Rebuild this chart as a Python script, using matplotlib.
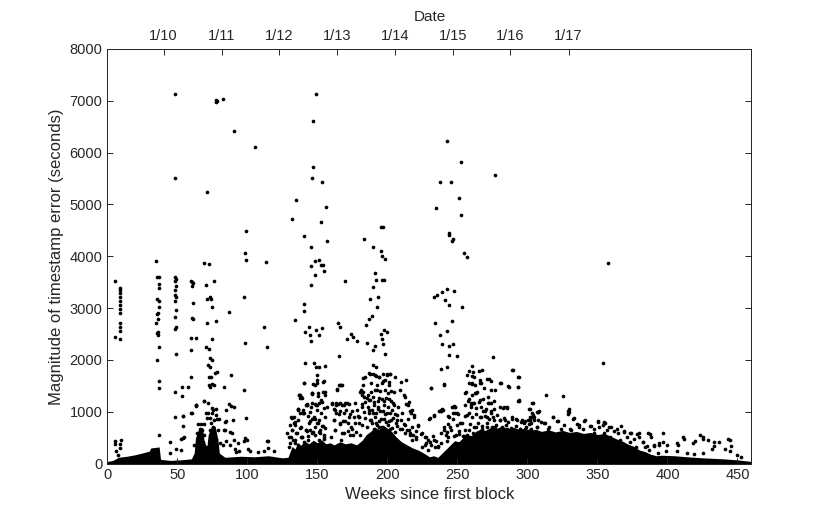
import matplotlib
matplotlib.use("Agg")
import matplotlib.pyplot as plt

plt.rcParams['font.family'] = ['Liberation Sans', 'DejaVu Sans']

# top axis (calendar dates) positions in weeks
date_pos = [40.2, 81.6, 122.9, 164.2, 205.4, 246.7, 287.9, 329.4]
date_labels = ['1/10', '1/11', '1/12', '1/13', '1/14', '1/15', '1/16', '1/17']

# dense core of the point cloud: approximate solid top per week
band_weeks = [0, 4, 8, 14, 20, 26, 30, 31, 37, 38,
              45, 52, 60, 62, 63, 65, 68, 69, 71, 72,
              74, 77, 79, 80, 84, 95, 105, 115, 125, 129,
              132, 134, 136, 138, 141, 144, 147, 150, 153, 156,
              159, 162, 166, 170, 174, 178, 182, 185, 188, 191,
              194, 197, 200, 203, 206, 210, 214, 218, 222, 226,
              230, 233, 236, 239, 242, 245, 248, 251, 254, 257,
              260, 263, 266, 270, 274, 278, 282, 286, 290, 294,
              298, 302, 306, 310, 315, 320, 325, 330, 335, 340,
              345, 350, 355, 360, 364, 368, 372, 376, 380, 384,
              388, 392, 396, 405, 414, 425, 440, 450, 460]
band_top = [40, 60, 120, 140, 170, 210, 240, 300, 320, 80,
            60, 70, 90, 200, 500, 650, 700, 450, 300, 550,
            700, 720, 450, 200, 120, 140, 130, 150, 110, 120,
            330, 280, 400, 350, 430, 380, 450, 400, 460, 380,
            400, 360, 420, 380, 400, 360, 450, 560, 620, 700,
            660, 740, 680, 620, 520, 420, 360, 300, 260, 200,
            130, 150, 120, 200, 280, 360, 440, 420, 500, 560,
            540, 620, 660, 640, 700, 680, 720, 670, 700, 660,
            680, 640, 660, 620, 650, 610, 640, 600, 620, 580,
            600, 560, 580, 520, 470, 430, 370, 330, 260, 230,
            180, 150, 160, 150, 130, 110, 90, 70, 40]

# individual points (week, seconds), weeks 0-130
early_pts = [
    (5.7, 3516), (9.1, 3387), (9.1, 3349), (9.1, 3284), (9.1, 3220), (9.1, 3143), (9.1, 3059),
    (9.1, 2975), (9.1, 2898), (9.1, 2705), (9.1, 2640), (9.1, 2563), (9.1, 2396), (5.7, 2434),
    (5.3, 438), (9.5, 451), (9.1, 309), (5.3, 377), (9.3, 377), (6.0, 248), (7.4, 164),
    (34.8, 3903), (35.8, 3606), (36.8, 3594), (36.8, 3465), (37.2, 3387), (35.8, 3168), (36.8, 3143),
    (36.8, 3027), (36.3, 2911), (35.3, 2885), (36.3, 2782), (34.8, 2718), (36.3, 2537), (35.8, 2525),
    (36.3, 2473), (36.8, 2241), (35.3, 1996), (36.8, 1584), (36.8, 1455), (36.8, 554),
    (48.4, 7135), (48.4, 5506), (48.2, 3606), (48.7, 3568), (48.2, 3516), (48.7, 3426), (48.2, 3349),
    (48.2, 3259), (48.7, 3207), (48.2, 3143), (48.7, 2962), (48.2, 2821), (48.7, 2640), (48.2, 2589),
    (48.7, 2112), (48.2, 1378), (48.2, 902),
    (53.5, 1481), (53.5, 1301), (53.7, 915), (54.4, 721), (54.2, 502), (57.3, 1481), (54.0, 919),
    (60.2, 970), (52.6, 468), (55.0, 519), (44.5, 416), (48.8, 274), (52.6, 261), (44.5, 197),
    (59.7, 3516), (60.6, 3503), (61.1, 3478), (60.6, 3426), (61.1, 3091), (60.6, 2808), (61.1, 2795),
    (59.7, 2421), (59.7, 2190), (59.7, 1662), (59.7, 966),
    (63.0, 2421), (63.5, 1133), (63.0, 1108),
    (68.7, 3877), (72.6, 3851), (71.1, 5242), (70.6, 3452), (75.9, 3529), (71.1, 3168), (73.5, 3207),
    (74.2, 3168), (74.5, 3027), (71.1, 2718), (77.3, 2756), (74.5, 2396), (70.2, 2241), (72.6, 2203),
    (73.5, 2035), (74.5, 1996), (72.1, 1893), (73.5, 1868), (72.6, 1674), (74.0, 1662), (74.9, 1533),
    (76.8, 1739), (78.3, 1765), (73.5, 1481), (72.6, 1507), (76.4, 1520), (68.7, 1211), (72.1, 1172),
    (74.5, 1069), (75.4, 1030), (77.3, 1056), (70.2, 966), (73.5, 876), (75.9, 837), (78.3, 850),
    (63.6, 1138), (68.8, 1202), (71.7, 970), (75.0, 970), (77.4, 944), (71.2, 880), (79.8, 854),
    (64.5, 764), (66.9, 764), (68.8, 764), (66.0, 661), (67.9, 648), (64.0, 584), (69.3, 545),
    (66.4, 481), (68.3, 416), (74.0, 777), (75.5, 713), (73.6, 648), (76.4, 584), (74.5, 519),
    (77.4, 468), (73.6, 416), (78.8, 648), (80.2, 403), (62.1, 352), (70.2, 326), (82.6, 352),
    (77.6, 7020), (78.3, 6994), (77.8, 6981), (82.6, 7032), (90.7, 6408), (105.3, 6099),
    (86.9, 2924), (88.3, 1700), (83.5, 1468), (86.6, 1146), (88.3, 1108), (85.0, 1030), (90.2, 1082),
    (84.5, 811), (89.7, 837), (84.0, 644), (89.3, 580), (84.0, 803), (83.1, 648), (87.4, 610),
    (90.2, 455), (93.1, 403), (84.5, 429), (87.9, 352), (91.2, 287), (91.7, 223), (94.0, 248),
    (98.3, 4070), (98.8, 3928), (99.3, 4482), (97.9, 3220), (98.3, 2318), (97.9, 1417), (99.3, 876),
    (98.3, 502), (99.8, 451), (97.4, 442), (100.7, 287), (101.7, 236),
    (113.6, 3890), (112.2, 2640), (114.1, 2241), (114.8, 438), (114.1, 429), (114.5, 300),
    (119.3, 236), (112.1, 248), (107.9, 223),
]

# weeks 130-230
mid_pts = [
    (134.6, 5087), (132.2, 4727), (134.1, 2769), (137.5, 1314), (138.9, 1262), (136.5, 1030),
    (139.9, 966), (132.2, 876), (136.0, 837), (134.1, 734),
    (149.0, 7135), (147.1, 6614), (147.1, 5719), (146.2, 5519), (153.6, 5442), (156.2, 4946),
    (140.5, 4392), (152.4, 4663), (156.7, 4295), (145.7, 4186), (148.1, 3903), (145.2, 3812),
    (151.4, 3928), (152.9, 3838), (154.3, 3825), (154.8, 3722), (148.1, 3639), (145.2, 3452),
    (140.5, 3078), (140.5, 2950), (141.4, 2544), (143.8, 2640), (144.8, 2486), (149.0, 2576),
    (151.4, 2473), (153.3, 2615), (145.2, 2370), (141.4, 1932), (147.6, 1945), (149.0, 1855),
    (151.4, 1868), (155.7, 1881), (140.5, 1558), (146.7, 1533), (149.5, 1546), (154.3, 1571),
    (146.2, 1352), (155.2, 1378), (148.6, 1146), (150.9, 1172), (142.4, 1133),
    (164.8, 2705), (166.2, 2640), (170.0, 3516), (165.2, 2074), (166.2, 1507), (167.6, 1507),
    (164.3, 1417), (171.0, 2396), (173.8, 2499), (175.2, 2434), (178.1, 2370),
    (183.3, 4328), (189.5, 4173), (195.2, 4560), (197.1, 4560), (195.2, 4096), (196.2, 4006),
    (198.1, 3941), (191.0, 3684), (191.9, 3542), (196.2, 3542), (197.6, 3542), (190.0, 3413),
    (193.3, 3220), (187.6, 3181), (192.4, 3014), (189.0, 2846), (186.7, 2795), (184.8, 2666),
    (197.6, 2576), (199.5, 2537), (195.7, 2499), (196.2, 2396), (197.1, 2306), (185.7, 2331),
    (191.4, 2267), (190.0, 2190), (198.6, 2112), (190.0, 1906), (191.9, 1868), (182.4, 1649),
    (187.6, 1726), (190.9, 1700), (194.3, 1674), (200.0, 1713), (201.9, 1726), (197.1, 1597),
    (201.0, 1571), (209.5, 1571), (212.9, 1288), (214.8, 1133), (182.9, 1378), (188.6, 1378),
    (192.9, 1417), (204.8, 1378),
    (136.9, 1318), (138.3, 1280), (142.1, 1138), (136.4, 1048), (139.8, 983), (133.6, 893),
    (145.5, 1086), (146.4, 1344), (150.2, 1357), (148.8, 1138), (152.6, 1228), (143.6, 919),
    (148.3, 867), (130.7, 739), (134.0, 803), (131.7, 648), (135.0, 584), (137.9, 687),
    (141.7, 648), (145.0, 815), (150.2, 777), (131.2, 519), (134.0, 455), (138.3, 506),
    (143.6, 532), (146.9, 610), (152.1, 648), (130.7, 390), (135.9, 352), (140.7, 416),
    (145.9, 377), (151.2, 455), (155.0, 519),
    (137.9, 1260), (142.4, 1149), (139.8, 1033), (145.0, 995), (149.8, 1033), (147.9, 898),
    (152.6, 981), (154.5, 1072), (146.4, 859), (149.8, 781), (153.6, 717), (141.7, 652),
    (145.0, 639), (148.3, 549), (151.7, 588), (155.5, 678), (139.3, 508), (143.5, 457), (154.5, 482),
    (160.7, 1149), (163.6, 1175), (164.9, 1149), (167.3, 1136), (169.7, 1175), (172.6, 1149),
    (162.1, 1059), (163.1, 969), (166.4, 1007), (170.7, 1033), (173.5, 956), (175.9, 891),
    (178.8, 917), (161.7, 839), (165.9, 762), (168.3, 826), (172.1, 775), (175.0, 672),
    (179.8, 775), (177.9, 607), (162.6, 646), (168.8, 581), (173.1, 543), (159.8, 504),
    (180.2, 543), (166.9, 453),
    (180.6, 1381), (182.0, 1329), (185.4, 1265), (187.8, 1226), (189.7, 1290), (193.6, 1200),
    (195.9, 1239), (199.3, 1265), (200.7, 1368), (202.6, 1200), (182.1, 1149), (185.9, 1097),
    (190.2, 1123), (193.1, 1085), (197.4, 1136), (200.2, 1085), (204.9, 1123), (183.1, 995),
    (186.9, 969), (188.8, 1033), (191.7, 981), (195.0, 1007), (198.3, 956), (201.7, 981),
    (205.5, 956), (179.5, 891), (184.3, 878), (187.6, 839), (191.0, 891), (194.3, 826),
    (197.6, 865), (201.0, 814), (203.9, 878), (207.2, 839), (181.6, 749), (185.4, 710),
    (189.2, 775), (192.6, 736), (196.4, 698), (200.2, 749), (203.6, 685), (206.9, 723),
    (210.2, 672), (212.1, 762), (214.0, 646),
    (213.6, 1149), (216.4, 1007), (218.8, 930), (214.5, 852), (221.7, 736), (217.9, 698),
    (220.7, 620), (224.0, 569), (216.4, 556), (226.9, 517), (229.3, 453), (227.4, 388),
]

# extra points of the dense cloud, weeks 128-220
cloud_a_pts = [
    (149.5, 1705), (140.8, 1563), (148.1, 1525), (154.8, 1589), (149.8, 1615),
    (137.1, 1331), (138.6, 1292), (146.2, 1357), (150.5, 1305), (153.8, 1383), (155.2, 1318),
    (165.2, 1525), (166.7, 1512), (164.3, 1434), (131.4, 893), (136.2, 1048), (137.6, 970),
    (133.3, 776), (142.4, 1138), (146.2, 1163), (150.0, 1125), (153.3, 1189), (156.7, 1086),
    (147.6, 880), (151.0, 841), (155.2, 906), (140.5, 970), (143.8, 777), (148.6, 712),
    (153.8, 725), (142.9, 635), (146.2, 584), (151.0, 610), (154.8, 545),
    (160.5, 1163), (163.3, 1138), (166.2, 1163), (169.0, 1138), (171.4, 1163),
    (162.4, 1035), (165.2, 957), (169.0, 983), (172.4, 906), (174.8, 1009),
    (161.9, 841), (166.2, 777), (170.0, 815), (173.8, 712), (177.1, 777),
    (162.9, 648), (167.6, 584), (171.9, 622), (175.7, 545),
    (176.7, 1163), (178.6, 1035), (180.0, 906), (181.9, 1099), (184.3, 1189), (186.2, 1331),
    (183.3, 1292), (180.9, 1421), (182.9, 1512), (184.3, 1679), (187.1, 1744), (189.5, 1718),
    (191.9, 1692), (194.3, 1666), (196.7, 1718), (199.5, 1731), (201.9, 1718),
    (188.6, 1563), (192.9, 1525), (196.2, 1550), (198.6, 1615), (201.0, 1525), (191.0, 1421),
    (194.8, 1396), (198.6, 1421), (202.4, 1409),
    (187.1, 1228), (190.5, 1189), (193.8, 1266), (197.6, 1215), (201.4, 1254), (204.3, 1163),
    (207.6, 1099), (186.7, 1035), (190.0, 970), (193.3, 1048), (196.7, 1009), (200.0, 970),
    (203.3, 1035), (207.1, 945), (210.5, 970), (188.6, 841), (191.9, 777), (195.7, 854),
    (199.0, 802), (202.9, 841), (206.2, 777), (209.5, 841), (212.9, 751), (190.5, 674),
    (194.3, 712), (198.1, 648), (201.9, 674), (205.7, 610), (209.0, 674), (212.4, 584),
    (215.7, 648), (218.6, 545), (209.0, 1421), (211.9, 1331), (215.7, 1189), (217.6, 1035),
    (213.3, 1615), (205.7, 1679), (129.5, 519), (132.4, 455), (128.1, 584), (135.7, 584),
    (139.0, 519), (134.3, 390), (130.0, 326), (131.9, 648), (138.1, 712),
]

# weeks 230-460
late_pts = [
    (234.8, 4933), (237.6, 5442), (242.9, 6221), (245.2, 5442), (252.9, 5815), (251.0, 5133),
    (252.9, 4791), (244.3, 4444), (244.3, 4418), (246.7, 4340), (246.2, 4302), (254.8, 4057),
    (257.1, 3980), (277.1, 5577), (233.3, 3207), (235.7, 3246), (239.0, 3310), (242.4, 3375),
    (241.4, 3156), (247.6, 3323), (244.3, 3053), (253.3, 3027), (234.0, 2705), (237.4, 2486),
    (242.6, 2550), (246.4, 2756), (238.8, 2306), (244.3, 2267), (247.1, 2306), (244.3, 2100),
    (250.0, 2074), (238.6, 1816), (242.4, 1868), (231.4, 1455), (240.5, 1533), (233.3, 915),
    (230.0, 863), (238.6, 1018), (239.5, 1030), (246.7, 1095), (248.1, 1095), (243.8, 889),
    (247.1, 966), (250.5, 953), (256.7, 1713), (260.5, 1881), (261.0, 1765), (261.9, 1674),
    (258.6, 1546), (260.5, 1533), (265.2, 1790), (267.6, 1803), (266.7, 1558), (264.3, 1378),
    (263.3, 1352), (256.2, 1378), (258.1, 1236), (260.0, 1159), (272.9, 1623), (273.8, 1584),
    (275.7, 2048), (276.7, 1417), (271.9, 1288), (276.2, 1198), (273.8, 1159), (281.0, 1558),
    (282.4, 1069), (285.7, 1069), (286.7, 1468), (290.0, 1803), (293.3, 1468), (294.3, 1674),
    (294.3, 1211), (301.4, 1056),
    (232.6, 530), (234.5, 427), (231.2, 350), (236.4, 324), (238.3, 1033), (236.9, 1007),
    (243.1, 917), (246.4, 1097), (248.3, 969), (240.2, 710), (243.1, 762), (246.9, 852),
    (249.8, 749), (253.1, 788), (238.1, 594), (241.9, 556), (245.2, 646), (249.0, 543),
    (250.9, 633), (253.8, 530),
    (255.6, 1136), (257.5, 1213), (259.4, 1085), (261.7, 1162), (263.6, 1072), (266.4, 1226),
    (268.3, 1007), (270.7, 1059), (272.6, 1175), (274.0, 969), (275.9, 1046), (257.1, 943),
    (260.5, 891), (263.3, 956), (266.2, 891), (269.5, 917), (272.4, 865), (275.2, 891),
    (278.6, 943), (280.5, 839), (283.3, 878), (286.2, 801), (289.1, 852), (291.9, 865),
    (295.2, 801), (298.1, 826), (300.9, 762), (258.9, 762), (261.7, 710), (264.5, 788),
    (267.9, 723), (271.2, 775), (274.5, 710), (277.9, 749), (281.7, 698), (285.0, 736),
    (288.3, 685), (291.7, 723), (295.0, 672), (298.8, 710), (302.1, 646), (255.6, 646),
    (257.1, 543), (260.9, 581), (285.7, 1085), (293.8, 1226),
    (357.6, 3864), (354.3, 1932), (313.3, 1314), (325.7, 1301), (303.8, 1159), (308.1, 1005),
    (329.5, 1056), (329.5, 992), (304.3, 940), (301.9, 837), (318.6, 889), (333.3, 876),
    (341.4, 837), (350.5, 824), (354.8, 799),
    (307.6, 995), (301.9, 906), (304.8, 841), (321.4, 815), (312.9, 777), (309.5, 803),
    (297.6, 790), (337.1, 751), (345.2, 725), (355.2, 790), (354.3, 751), (360.0, 712),
    (363.8, 674), (366.7, 725), (369.0, 635), (373.8, 584), (380.0, 584), (371.0, 519),
    (376.2, 468), (382.4, 416), (387.6, 571), (385.2, 339), (315.7, 712), (323.8, 674),
    (331.0, 648), (339.5, 674), (347.6, 661), (357.1, 648),
    (397.1, 584), (396.7, 416), (390.5, 339), (394.3, 352), (407.1, 403), (407.6, 352),
    (411.0, 519), (412.0, 468), (418.0, 403), (420.0, 442), (423.0, 545), (425.7, 506),
    (425.7, 468), (428.6, 455), (432.9, 416), (433.3, 339), (432.0, 274), (437.0, 416),
    (441.0, 274), (442.9, 481), (445.0, 455), (445.2, 339), (444.8, 236), (413.8, 210),
    (419.0, 184), (425.7, 197), (450.0, 159), (452.4, 133), (407.1, 249), (399.0, 236),
    (392.9, 197), (400.0, 365),
]

# extra points of the dense cloud, weeks 216-395
cloud_b_pts = [
    (216.9, 970), (218.8, 893), (221.7, 725), (225.0, 584), (227.4, 519), (230.7, 416),
    (233.1, 455), (229.3, 261), (236.4, 339), (225.0, 326), (220.2, 519), (217.4, 455),
    (231.2, 1460), (240.2, 1525), (230.2, 880), (233.1, 931), (238.1, 1022), (239.0, 1048),
    (242.6, 609), (245.0, 712), (247.4, 1112), (248.3, 1086), (249.8, 970), (252.1, 777),
    (255.5, 919), (258.3, 983), (259.8, 1138),
    (255.7, 1370), (260.5, 1331), (262.9, 1357), (261.4, 1163), (265.2, 1189), (266.7, 1099),
    (268.6, 1254), (271.9, 1163), (274.3, 1009), (270.0, 1009), (267.1, 906), (271.4, 906),
    (258.3, 1795), (260.7, 1692), (260.7, 1563), (262.6, 1512), (265.9, 1550), (266.4, 1615),
    (271.2, 1628), (269.3, 1460), (274.0, 1421), (280.7, 1563), (286.4, 1499), (293.1, 1486),
    (293.6, 1679), (289.3, 1808), (293.6, 1215), (301.7, 1048), (303.6, 970), (307.0, 996),
    (300.7, 841), (305.0, 893), (307.9, 841),
    (280.2, 1086), (283.6, 1086), (288.8, 906), (292.6, 841), (295.9, 841), (284.0, 841),
    (280.1, 841), (275.8, 841), (276.7, 712), (280.5, 674), (285.2, 674), (290.0, 648),
    (294.8, 674), (298.6, 674), (302.4, 674), (306.7, 712),
    (240.2, 648), (243.1, 519), (247.4, 532), (251.2, 570), (254.5, 532), (258.3, 648),
    (263.1, 712), (267.4, 674), (271.2, 712),
    (216.4, 584), (220.7, 481), (226.9, 352), (234.0, 313), (238.3, 390), (242.6, 428),
    (303.6, 1164), (307.4, 996), (303.1, 906), (302.6, 777),
    (318.3, 893), (322.1, 828), (329.3, 1022), (329.3, 957), (332.6, 854), (335.5, 764),
    (336.9, 712), (340.2, 828), (345.0, 725), (350.2, 803), (351.2, 712), (355.0, 790),
    (358.3, 712), (361.7, 635), (365.0, 583), (368.8, 609), (373.6, 583), (378.3, 570),
    (379.8, 506), (382.6, 416), (386.4, 583), (387.9, 519), (390.7, 351), (394.0, 390),
    (306.9, 712), (311.7, 777), (315.0, 674), (326.0, 738), (330.7, 674), (347.4, 583),
    (354.5, 583), (359.3, 519), (366.4, 455), (373.6, 416), (377.4, 326), (384.0, 326),
    (386.9, 261),
]

ink = '#262626'
fig = plt.figure(figsize=(8.3, 5.19), dpi=100)
ax = fig.add_axes([0.1293, 0.1069, 0.7761, 0.7987])

ax.fill_between(band_weeks, 0, band_top, color='black', linewidth=0)
for pts in (early_pts, mid_pts, cloud_a_pts, late_pts, cloud_b_pts):
    xs = [p[0] for p in pts]
    ys = [p[1] for p in pts]
    ax.scatter(xs, ys, s=7, c='black', linewidths=0)

ax.set_xlim(0, 460)
ax.set_ylim(0, 8000)
ax.set_xticks(range(0, 451, 50))
ax.set_yticks(range(0, 8001, 1000))
ax.tick_params(direction='in', length=4, right=True, top=False,
               labelsize=10.5, colors=ink, width=0.7)
ax.set_xlabel('Weeks since first block', fontsize=12, color=ink, labelpad=3)
ax.set_ylabel('Magnitude of timestamp error (seconds)', fontsize=12, color=ink, labelpad=4)
for sp in ax.spines.values():
    sp.set_color(ink)
    sp.set_linewidth(0.7)

ax2 = ax.twiny()
ax2.set_xlim(0, 460)
ax2.set_xticks(date_pos)
ax2.set_xticklabels(date_labels)
ax2.tick_params(direction='in', length=4, labelsize=10.5, colors=ink, width=0.7, pad=4)
ax2.set_xlabel('Date', fontsize=11, color=ink, labelpad=6)
for sp in ax2.spines.values():
    sp.set_color(ink)
    sp.set_linewidth(0.7)

fig.savefig('out.png', dpi=100)
